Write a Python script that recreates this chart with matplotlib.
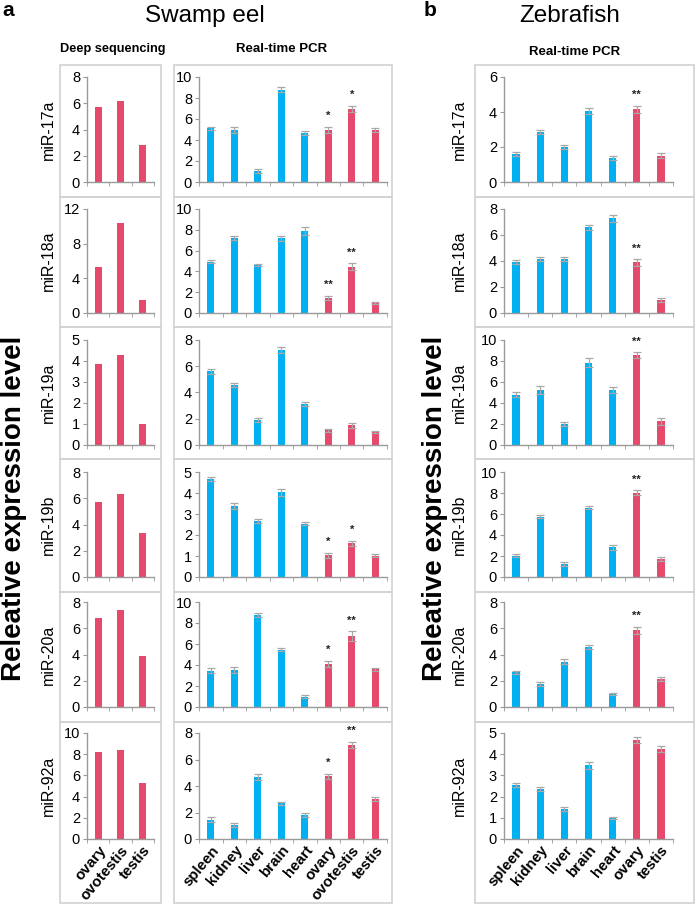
import matplotlib
matplotlib.use("Agg")
import matplotlib.pyplot as plt
from matplotlib.patches import Rectangle

plt.rcParams['font.family'] = ['Liberation Sans', 'DejaVu Sans']

# ---------------- data ----------------
mirnas = ['miR-17a', 'miR-18a', 'miR-19a', 'miR-19b', 'miR-20a', 'miR-92a']
deep_tissues = ['ovary', 'ovotestis', 'testis']
eel_tissues = ['spleen', 'kidney', 'liver', 'brain', 'heart', 'ovary', 'ovotestis', 'testis']
zf_tissues = ['spleen', 'kidney', 'liver', 'brain', 'heart', 'ovary', 'testis']

deep_values = [
    [5.7, 6.15, 2.85],
    [5.35, 10.35, 1.5],
    [3.85, 4.3, 1.02],
    [5.75, 6.35, 3.35],
    [6.75, 7.4, 3.85],
    [8.25, 8.35, 5.3],
]
deep_ymax = [8, 12, 5, 8, 8, 10]
deep_ystep = [2, 4, 1, 2, 2, 2]

eel_values = [
    [5.1, 4.95, 1.05, 8.8, 4.7, 4.95, 6.95, 4.95],
    [4.95, 7.25, 4.63, 7.2, 7.9, 1.45, 4.47, 1.0],
    [5.62, 4.6, 1.92, 7.25, 3.13, 1.12, 1.5, 1.0],
    [4.66, 3.38, 2.67, 4.03, 2.54, 1.03, 1.6, 1.01],
    [3.45, 3.53, 8.75, 5.45, 1.0, 4.12, 6.75, 3.6],
    [1.47, 1.02, 4.68, 2.68, 1.78, 4.72, 7.1, 3.0],
]
eel_errors = [
    [0.15, 0.3, 0.2, 0.25, 0.2, 0.3, 0.3, 0.15],
    [0.15, 0.2, 0.12, 0.25, 0.4, 0.2, 0.3, 0.1],
    [0.2, 0.15, 0.15, 0.25, 0.15, 0.12, 0.2, 0.1],
    [0.08, 0.15, 0.1, 0.15, 0.07, 0.12, 0.12, 0.07],
    [0.25, 0.25, 0.2, 0.15, 0.1, 0.3, 0.45, 0.15],
    [0.2, 0.15, 0.2, 0.15, 0.15, 0.2, 0.25, 0.15],
]
eel_sig = [
    ['', '', '', '', '', '*', '*', ''],
    ['', '', '', '', '', '**', '**', ''],
    ['', '', '', '', '', '', '', ''],
    ['', '', '', '', '', '*', '*', ''],
    ['', '', '', '', '', '*', '**', ''],
    ['', '', '', '', '', '*', '**', ''],
]
eel_ymax = [10, 10, 8, 5, 10, 8]
eel_ystep = [2, 2, 2, 1, 2, 2]

zf_values = [
    [1.6, 2.85, 2.0, 4.06, 1.38, 4.17, 1.51],
    [3.95, 4.13, 4.13, 6.6, 7.28, 3.9, 0.97],
    [4.8, 5.24, 2.0, 7.84, 5.24, 8.57, 2.25],
    [2.01, 5.75, 1.21, 6.58, 2.81, 8.02, 1.69],
    [2.63, 1.74, 3.46, 4.55, 0.98, 5.83, 2.12],
    [2.56, 2.37, 1.42, 3.47, 0.99, 4.68, 4.26],
]
zf_errors = [
    [0.12, 0.1, 0.1, 0.15, 0.1, 0.2, 0.12],
    [0.15, 0.15, 0.15, 0.2, 0.25, 0.25, 0.15],
    [0.25, 0.4, 0.2, 0.4, 0.3, 0.25, 0.3],
    [0.15, 0.15, 0.2, 0.15, 0.25, 0.25, 0.2],
    [0.15, 0.15, 0.2, 0.15, 0.1, 0.3, 0.15],
    [0.1, 0.1, 0.1, 0.15, 0.07, 0.15, 0.15],
]
zf_sig = [
    ['', '', '', '', '', '**', ''],
    ['', '', '', '', '', '**', ''],
    ['', '', '', '', '', '**', ''],
    ['', '', '', '', '', '**', ''],
    ['', '', '', '', '', '**', ''],
    ['', '', '', '', '', '', ''],
]
zf_ymax = [6, 8, 10, 10, 8, 5]
zf_ystep = [2, 2, 2, 2, 2, 1]

# ---------------- style ----------------
BLUE = '#00B0F0'
PINK = '#E5496C'
AXCOL = '#9A9A9A'
BOXCOL = '#D2D2D2'
ERRCOL = '#A8A8A8'

W, H = 697, 906
fig = plt.figure(figsize=(W / 100, H / 100), dpi=100)


def fx(x):
    return x / W


def fy(y):
    return 1 - y / H


def rect(x0, x1, ytop, ybot):
    return [x0 / W, 1 - ybot / H, (x1 - x0) / W, (ybot - ytop) / H]


row_axes = [(77, 182), (209, 313), (340, 445), (472, 577), (602, 707), (733, 839)]
row_edges = [65, 197, 327, 459, 592, 722, 903]

col_box = {'deep': (60, 161), 'eel': (174, 392), 'zf': (475, 694)}
col_ax = {'deep': (87, 154), 'eel': (199, 387), 'zf': (504, 673)}

# boxes
for key, (x0, x1) in col_box.items():
    for r in range(6):
        y0, y1 = row_edges[r], row_edges[r + 1]
        fig.patches.append(Rectangle((fx(x0), fy(y1)), fx(x1) - fx(x0), fy(y0) - fy(y1),
                                     transform=fig.transFigure, fill=False,
                                     edgecolor=BOXCOL, linewidth=1.2))


def draw_panel(key, r, labels, values, colors, ymax, ystep, errors=None, sig=None, bottom=False):
    x0, x1 = col_ax[key]
    yt, yb = row_axes[r]
    ax = fig.add_axes(rect(x0, x1, yt, yb))
    n = len(labels)
    xs = list(range(n))
    ax.bar(xs, values, width=0.3, color=colors, zorder=2)
    if errors is not None:
        ax.errorbar(xs, values, yerr=errors, fmt='none', ecolor=ERRCOL,
                    elinewidth=0.9, capsize=2.6, capthick=0.9, zorder=3)
    if sig is not None:
        for i, s in enumerate(sig):
            if s:
                ax.annotate(s, (i, values[i] + errors[i]), xytext=(0, 4),
                            textcoords='offset points', ha='center', va='bottom',
                            fontsize=8, fontweight='bold', color='#222222')
    ax.set_xlim(-0.5, n - 0.5)
    ax.set_ylim(0, ymax)
    ax.set_yticks(list(range(0, ymax + 1, ystep)))
    ax.set_xticks(xs)
    ax.set_xticks([i - 0.5 for i in range(n + 1)], minor=True)
    if bottom:
        ax.set_xticklabels(labels, rotation=50, ha='right', rotation_mode='anchor',
                           fontsize=10.8, fontweight='bold')
    else:
        ax.set_xticklabels([])
    ax.tick_params(axis='x', which='major', length=0, pad=3)
    ax.tick_params(axis='x', which='minor', length=3, color=AXCOL, direction='out')
    ax.tick_params(axis='y', length=3, color=AXCOL, direction='out', labelsize=10.5, pad=2)
    for s in ['top', 'right']:
        ax.spines[s].set_visible(False)
    for s in ['left', 'bottom']:
        ax.spines[s].set_color(AXCOL)
        ax.spines[s].set_linewidth(1.0)
    ax.patch.set_alpha(0)
    return ax


for r in range(6):
    bottom = (r == 5)
    draw_panel('deep', r, deep_tissues, deep_values[r], [PINK] * 3,
               deep_ymax[r], deep_ystep[r], bottom=bottom)
    draw_panel('eel', r, eel_tissues, eel_values[r], [BLUE] * 5 + [PINK] * 3,
               eel_ymax[r], eel_ystep[r], eel_errors[r], eel_sig[r], bottom=bottom)
    draw_panel('zf', r, zf_tissues, zf_values[r], [BLUE] * 5 + [PINK] * 2,
               zf_ymax[r], zf_ystep[r], zf_errors[r], zf_sig[r], bottom=bottom)
    yc = (row_axes[r][0] + row_axes[r][1]) / 2
    fig.text(fx(48), fy(yc), mirnas[r], rotation=90, ha='center', va='center', fontsize=11.5)
    fig.text(fx(459), fy(yc), mirnas[r], rotation=90, ha='center', va='center', fontsize=11.5)

# titles & labels
fig.text(fx(205), fy(16), 'Swamp eel', ha='center', va='center', fontsize=17.5)
fig.text(fx(570), fy(16), 'Zebrafish', ha='center', va='center', fontsize=17.5)
fig.text(fx(8), fy(11), 'a', ha='center', va='center', fontsize=15, fontweight='bold')
fig.text(fx(430), fy(11), 'b', ha='center', va='center', fontsize=15, fontweight='bold')
fig.text(fx(113), fy(49), 'Deep sequencing', ha='center', va='center', fontsize=9.2, fontweight='bold')
fig.text(fx(282), fy(49), 'Real-time PCR', ha='center', va='center', fontsize=9.5, fontweight='bold')
fig.text(fx(575), fy(52), 'Real-time PCR', ha='center', va='center', fontsize=9.5, fontweight='bold')
fig.text(fx(14), fy(508), 'Releative expression level', rotation=90, ha='center', va='center',
         fontsize=20, fontweight='bold')
fig.text(fx(435), fy(508), 'Releative expression level', rotation=90, ha='center', va='center',
         fontsize=20, fontweight='bold')

fig.savefig('out.png', dpi=100, facecolor='white')
